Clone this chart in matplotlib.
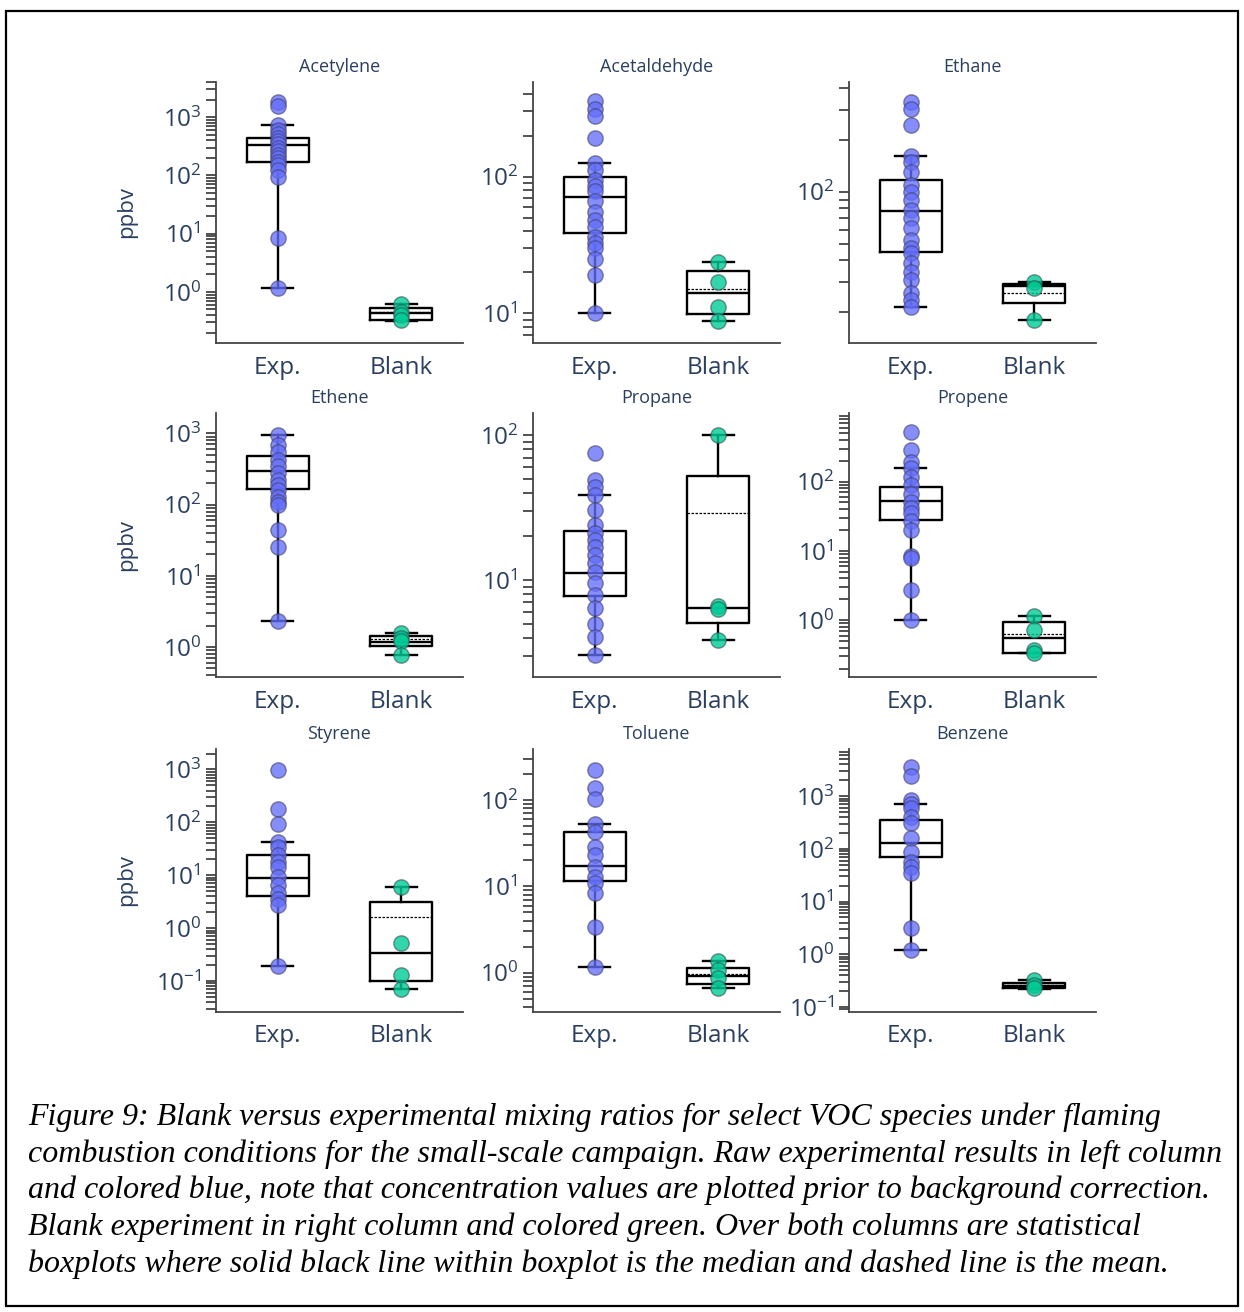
import numpy as np
import matplotlib.pyplot as plt
from matplotlib.ticker import LogLocator, LogFormatterSciNotation, NullFormatter
from matplotlib.patches import Rectangle

plt.rcParams['font.family'] = ['Open Sans', 'DejaVu Sans']

species = ['Acetylene', 'Acetaldehyde', 'Ethane',
           'Ethene', 'Propane', 'Propene',
           'Styrene', 'Toluene', 'Benzene']
groups = ['Exp.', 'Blank']

# individual measurements (ppbv)
acetylene_exp = [1840, 1520, 730, 600, 520, 440, 390, 340, 300, 260, 225, 195, 170, 150, 125, 95, 8.5, 1.15]
acetylene_blank = [0.63, 0.45, 0.40, 0.33]
acetaldehyde_exp = [360, 311, 278, 193, 127, 112, 95, 85, 78, 66, 55, 48, 43, 36, 33, 30, 25, 19, 10]
acetaldehyde_blank = [23.7, 17, 11.2, 8.8]
ethane_exp = [335, 303, 245, 162, 150, 131, 110, 100, 90, 78, 70, 61.5, 52.6, 47, 44, 38.5, 34, 30.8, 25.8, 23.5, 21.5]
ethane_blank = [29.8, 27.5, 17.9]
ethene_exp = [950, 687, 553, 423, 350, 275, 222, 190, 160, 129, 110, 99, 44, 25.6, 2.3]
ethene_blank = [1.55, 1.35, 1.2, 0.78]
propane_exp = [74.8, 49, 44, 38.5, 30.4, 24, 21, 19, 17, 14.9, 13, 11.4, 9.5, 7.9, 6.4, 5.0, 4.06, 3.04]
propane_blank = [100, 6.6, 6.3, 3.86]
propene_exp = [516, 291, 192, 155, 116, 90, 66, 50, 42, 35.6, 26.9, 20.3, 8.3, 7.8, 2.75, 1.01]
propene_blank = [1.15, 0.72, 0.37, 0.34]
styrene_exp = [980, 177, 93, 42, 34.8, 24.2, 18, 14.6, 9.4, 6.6, 4.57, 3.6, 2.75, 0.196]
styrene_blank = [6.0, 0.532, 0.13, 0.07]
toluene_exp = [223, 137, 103, 52.8, 43, 28.8, 23.1, 16.9, 12.9, 10.9, 8.3, 3.41, 1.17]
toluene_blank = [1.37, 1.07, 0.86, 0.66]
benzene_exp = [3630, 2415, 848, 702, 590, 408, 306, 159, 88, 57, 46, 34.4, 3.11, 1.22]
benzene_blank = [0.33, 0.26, 0.226]

exp_points = [acetylene_exp, acetaldehyde_exp, ethane_exp, ethene_exp, propane_exp,
              propene_exp, styrene_exp, toluene_exp, benzene_exp]
blank_points = [acetylene_blank, acetaldehyde_blank, ethane_blank, ethene_blank, propane_blank,
                propene_blank, styrene_blank, toluene_blank, benzene_blank]

# box statistics
exp_q1 = [172, 39, 44.6, 164, 7.76, 28.4, 4.12, 11.6, 71]
exp_med = [330, 71.5, 77.5, 299, 11.1, 52.8, 8.8, 17.2, 131]
exp_q3 = [433, 100, 117.4, 486, 21.8, 84.8, 24.2, 43, 353]
exp_lo = [1.15, 10, 21.5, 2.3, 3.04, 1.01, 0.196, 1.17, 1.22]
exp_hi = [730, 127, 162, 950, 38.5, 155, 42, 52.8, 702]

blank_q1 = [0.33, 9.84, 22.6, 1.02, 5.08, 0.336, 0.102, 0.73, 0.226]
blank_med = [0.43, 14.0, 28.2, 1.18, 6.4, 0.545, 0.335, 0.916, 0.25]
blank_q3 = [0.52, 20.4, 29.2, 1.42, 52.4, 0.925, 3.17, 1.14, 0.28]
blank_mean = [0.45, 15.1, 25.8, 1.3, 29.2, 0.624, 1.65, 0.96, 0.26]
blank_lo = [0.32, 8.8, 17.9, 0.78, 3.86, 0.33, 0.07, 0.66, 0.22]
blank_hi = [0.63, 23.7, 29.8, 1.55, 100, 1.15, 6.0, 1.37, 0.33]

y_ranges = [(0.133, 4000), (6.07, 493), (13.2, 435),
            (0.379, 1935), (2.14, 142), (0.151, 980),
            (0.026, 2440), (0.35, 391), (0.0804, 7870)]

W, H = 1244, 1312
fig = plt.figure(figsize=(W / 100, H / 100), dpi=100)

col_left = [216, 533, 849]
col_width = 247
row_top = [82, 413, 749]
row_bottom = [343, 677, 1012]

text_col = '#2a3f5f'
axis_col = '#444444'
blue = (0.388, 0.431, 0.98, 0.78)
green = (0.0, 0.8, 0.59, 0.8)

line = dict(color='black', linewidth=1.7)

for i, name in enumerate(species):
    r, c = divmod(i, 3)
    left = col_left[c] / W
    bottom = 1 - row_bottom[r] / H
    height = (row_bottom[r] - row_top[r]) / H
    ax = fig.add_axes([left, bottom, col_width / W, height])

    exp_stats = dict(q1=exp_q1[i], med=exp_med[i], q3=exp_q3[i],
                     whislo=exp_lo[i], whishi=exp_hi[i], fliers=[])
    blank_stats = dict(q1=blank_q1[i], med=blank_med[i], q3=blank_q3[i],
                       whislo=blank_lo[i], whishi=blank_hi[i],
                       mean=blank_mean[i], fliers=[])

    ax.bxp([exp_stats], positions=[0], widths=0.5, capwidths=0.25,
           showfliers=False, patch_artist=False,
           boxprops=line, whiskerprops=line, capprops=line, medianprops=line)
    ax.bxp([blank_stats], positions=[1], widths=0.5, capwidths=0.25,
           showfliers=False, showmeans=True, meanline=True, patch_artist=False,
           boxprops=line, whiskerprops=line, capprops=line, medianprops=line,
           meanprops=dict(color='black', linewidth=0.9, linestyle=(0, (2.0, 1.2))))

    ax.scatter(np.zeros(len(exp_points[i])), exp_points[i], s=122,
               facecolor=blue, edgecolor=(0.25, 0.25, 0.4, 0.6), linewidth=1.0, zorder=3)
    ax.scatter(np.ones(len(blank_points[i])), blank_points[i], s=122,
               facecolor=green, edgecolor=(0.2, 0.3, 0.3, 0.6), linewidth=1.0, zorder=3)

    ax.set_yscale('log')
    ax.set_ylim(*y_ranges[i])
    ax.set_xlim(-0.5, 1.5)
    ax.yaxis.set_major_locator(LogLocator(base=10, subs=(1.0,), numticks=30))
    ax.yaxis.set_major_formatter(LogFormatterSciNotation(base=10))
    ax.yaxis.set_minor_locator(LogLocator(base=10, subs=np.arange(2, 10), numticks=30))
    ax.yaxis.set_minor_formatter(NullFormatter())
    ax.tick_params(axis='y', which='both', length=7.5, width=1.3, color=axis_col,
                   labelsize=17.5, labelcolor=text_col, pad=3)
    ax.set_xticks([0, 1], groups)
    ax.tick_params(axis='x', length=0, pad=9, labelsize=17.5, labelcolor=text_col)

    for side in ['top', 'right']:
        ax.spines[side].set_visible(False)
    for side in ['left', 'bottom']:
        ax.spines[side].set_color(axis_col)
        ax.spines[side].set_linewidth(1.3)

    ax.text(0.5, 1 + 15 / (row_bottom[r] - row_top[r]), name, transform=ax.transAxes,
            ha='center', va='center', fontsize=13, color=text_col)

    if c == 0:
        fig.text(127 / W, 1 - (row_top[r] + row_bottom[r]) / 2 / H, 'ppbv',
                 rotation=90, ha='center', va='center', fontsize=16, color=text_col)

caption = [
    'Figure 9: Blank versus experimental mixing ratios for select VOC species under flaming',
    'combustion conditions for the small-scale campaign. Raw experimental results in left column',
    'and colored blue, note that concentration values are plotted prior to background correction.',
    'Blank experiment in right column and colored green. Over both columns are statistical',
    'boxplots where solid black line within boxplot is the median and dashed line is the mean.',
]
for k, txt in enumerate(caption):
    fig.text(28 / W, 1 - (1117 + 36.8 * k) / H, txt, ha='left', va='center',
             fontsize=23, family='Liberation Serif', style='italic', color='black')

fig.add_artist(Rectangle((6 / W, 1 - 1306 / H), 1232 / W, 1295 / H,
                         transform=fig.transFigure, fill=False,
                         edgecolor='black', linewidth=1.6))

fig.savefig('out.png', dpi=100)
